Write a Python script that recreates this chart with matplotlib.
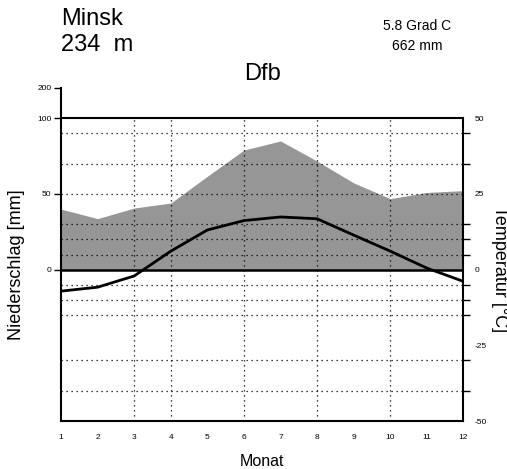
import matplotlib.pyplot as plt
import numpy as np

plt.rcParams['font.family'] = ['Liberation Sans', 'DejaVu Sans']

# Data
months = np.arange(1, 13)
month_labels = [str(m) for m in months]
precip_mm = [40, 33.7, 40.7, 44, 61.7, 79, 85, 71.7, 57.3, 46.9, 51, 52.2]
temp_c = [-7.1, -5.8, -2.1, 6.1, 13.1, 16.2, 17.4, 16.8, 11.4, 6.1, 0.5, -3.9]

station = 'Minsk'
altitude = '234  m'
climate_class = 'Dfb'
mean_temp = '5.8 Grad C'
total_precip = '662 mm'

grid_temp = [45, 35, 25, 15, 10, 5, -5, -10, -15, -30, -40]
grid_months = [3, 4, 6, 8, 10]


# precipitation scale: 2 mm per degree up to 100 mm, compressed above
def fwd(p):
    p = np.asarray(p, dtype=float)
    return np.where(p <= 100, p / 2.0, 50 + (p - 100) / 10.0)


def inv(t):
    t = np.asarray(t, dtype=float)
    return np.where(t <= 50, t * 2.0, 100 + (t - 50) * 10.0)


fig = plt.figure(figsize=(5.07, 4.69), dpi=100)
ax = fig.add_axes([61 / 507, 1 - 421 / 469, 402.5 / 507, 333 / 469])
ax.set_yscale('function', functions=(fwd, inv))
ax.set_ylim(-100, 200)
ax.set_xlim(1, 12)

ax.fill_between(months, 0, precip_mm, color='#969696', linewidth=0, zorder=1)
ax.axhline(0, color='black', linewidth=1.8, zorder=4)
ax.axhline(100, color='black', linewidth=1.5, zorder=4)

ax.set_yticks([0, 50, 100, 200])
ax.set_yticklabels(['0', '50', '100', '200'], fontsize=6)
ax.tick_params(axis='y', direction='out', length=5, width=1, pad=2)

ax.set_xticks(months)
ax.set_xticklabels(month_labels, fontsize=6)
ax.set_xticks([1, 3, 4, 6, 8, 10, 12], minor=True)
ax.tick_params(axis='x', which='major', length=0, pad=9)
ax.tick_params(axis='x', which='minor', direction='out', length=6, width=1.5)

ax.spines['top'].set_visible(False)
ax.spines['right'].set_visible(False)
ax.spines['left'].set_linewidth(1.5)
ax.spines['bottom'].set_linewidth(1.5)

ax2 = ax.twinx()
ax2.set_ylim(-50, 60)
ax2.plot(months, temp_c, color='black', linewidth=2, zorder=5)

for t in grid_temp:
    ax2.axhline(t, color='black', linestyle=(0, (1, 3)), linewidth=0.9, zorder=2)
for m in grid_months:
    ax2.axvline(m, ymax=100 / 110, color='black', linestyle=(0, (1, 3)),
                linewidth=0.9, zorder=2)

ax2.set_yticks([50, 25, 0, -25, -50])
ax2.set_yticklabels(['50', '25', '0', '-25', '-50'], fontsize=6)
ax2.set_yticks([50, 0, -50] + grid_temp, minor=True)
ax2.tick_params(axis='y', which='major', length=0, pad=8)
ax2.tick_params(axis='y', which='minor', direction='out', length=5, width=1)
ax2.spines['top'].set_visible(False)
ax2.spines['left'].set_visible(False)
ax2.spines['bottom'].set_visible(False)
ax2.spines['right'].set_bounds(-50, 50)
ax2.spines['right'].set_linewidth(1.5)

# Texts
fig.text(61 / 507, 1 - 19 / 469, station, fontsize=17, va='center', ha='left')
fig.text(61 / 507, 1 - 45 / 469, altitude, fontsize=17, va='center', ha='left')
fig.text(262 / 507, 1 - 74 / 469, climate_class, fontsize=17, va='center', ha='center')
fig.text(417 / 507, 1 - 26 / 469, mean_temp, fontsize=10, va='center', ha='center')
fig.text(417 / 507, 1 - 46 / 469, total_precip, fontsize=10, va='center', ha='center')
fig.text(17 / 507, 1 - 265 / 469, 'Niederschlag [mm]', fontsize=13, rotation=90,
         va='center', ha='center')
fig.text(491 / 507, 1 - 269 / 469, 'Temperatur [°C]', fontsize=13, rotation=270,
         va='center', ha='left')
fig.text(262 / 507, 1 - 461 / 469, 'Monat', fontsize=11.5, va='center', ha='center')

plt.savefig('out.png', dpi=100)
